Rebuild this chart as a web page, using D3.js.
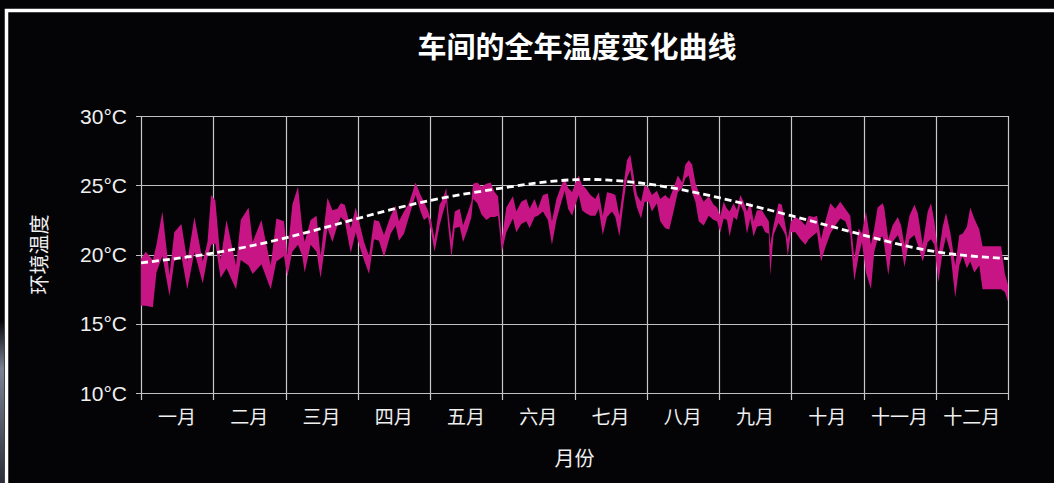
<!DOCTYPE html>
<html>
<head>
<meta charset="utf-8">
<script src="https://cdn.jsdelivr.net/npm/d3@7"></script>
<style>
  html, body { margin: 0; padding: 0; background: #040407; overflow: hidden; }
  svg { display: block; }
</style>
</head>
<body>
<div id="chart"></div>
<script>
// month labels (x axis)
var months = ["一月", "二月", "三月", "四月", "五月", "六月", "七月", "八月", "九月", "十月", "十一月", "十二月"];
// y axis ticks
var yTicks = [10, 15, 20, 25, 30];
// smooth trend, read at each month boundary (Jan 1 ... Dec 31)
var trendTemps = [19.4, 20.1, 21.2, 22.6, 23.9, 24.8, 25.4, 25.1, 24.1, 22.8, 21.4, 20.2, 19.7];

// daily band: day of year, upper and lower edge (°C)
var days = [0, 2, 5, 6.5, 9, 12, 14, 17, 19.5, 22.5, 26, 28, 29.5, 31.3, 33.5, 36, 40, 42, 45.3, 47, 50.7, 54.6, 57,
  60.2, 61.6, 63.7, 66.1, 67.9, 68.9, 71.4, 73.9, 75.6, 78.5, 80.6, 82.7, 84.1, 85.8, 88.3, 90.4, 91.8, 93.9, 96.0, 98.1, 100.2, 102.3, 105.1, 107.2, 108.6, 110.7, 112.8, 115.6, 117.7, 119.1,
  120.8, 122.2, 123.6, 125.7, 127.1, 128.5, 129.3, 130.7, 132.1, 134.2, 135.6, 137.7, 139.1, 139.8, 141.6, 143.3, 145.4, 147.2, 148.9, 150.3, 151.9, 153.8, 156.6, 158.0, 160.1, 162.2, 163.6, 165.7, 167.1, 169.2, 171.3, 173.0, 174.9, 177.0, 178.4, 179.8,
  181.5, 182.9, 184.3, 185.7, 187.1, 189.2, 191.3, 192.7, 194.4, 196.2, 198.3, 199.7, 201.4, 203.2, 204.6, 206.0, 207.4, 208.8, 210.5, 212.0, 213.7, 215.1, 217.2, 218.6, 220.7, 222.4, 224.2, 226.0, 227.8, 229.2, 230.6, 232.0, 233.4, 234.8, 236.9, 239.0, 241.1,
  242.5, 243.9, 245.3, 246.7, 247.8, 249.5, 250.9, 252.3, 253.7, 255.1, 256.5, 257.9, 259.3, 261.4, 262.8, 264.3, 264.9, 266.3, 268.4, 269.8, 271.3, 272.3, 273.6, 275.5, 277.6, 279.7, 281.1, 283.2, 284.6, 286.3, 288.1, 290.2, 292.3, 294.4, 296.5, 298.6, 300.3, 302.1, 303.5,
  305.2, 307.3, 308.7, 310.1, 312.2, 312.9, 314.6, 316.4, 318.6, 320.0, 321.4, 323.5, 325.6, 327.0, 329.1, 331.2, 332.6, 334.0, 335.7, 337.5, 338.9, 340.7, 342.8, 344.5, 345.9, 347.7, 349.1, 350.8, 352.9, 354.3, 362.1, 363.7, 365];
var highTemps = [19.7, 20.2, 19.6, 20.7, 23.1, 18.5, 21.6, 22.2, 19.5, 22.7, 19.5, 20.9, 24.3, 23.9, 19.6, 22.5, 19.2, 22.5, 23.4, 20.9, 22.5, 19.2, 22.6,
  22.4, 19.9, 23.6, 24.9, 21.9, 20.9, 22.5, 22.8, 19.9, 24.1, 23.2, 23.3, 23.7, 23.6, 21.9, 23.4, 22.4, 20.9, 19.9, 22.5, 22.4, 21.4, 22.8, 23.5, 22.4, 23.1, 23.7, 25.2, 24.3, 23.8,
  23.2, 22.4, 21.1, 23.6, 24.0, 24.8, 23.2, 21.1, 23.1, 23.3, 22.1, 23.1, 23.8, 25.1, 25.2, 24.9, 25.1, 25.2, 24.5, 24.2, 21.1, 23.4, 24.2, 23.1, 23.8, 24.0, 23.3, 24.0, 23.3, 24.3, 24.4, 22.4, 24.0, 25.0, 25.5, 24.8,
  24.5, 25.2, 25.7, 25.0, 24.8, 24.3, 24.0, 24.5, 22.8, 24.5, 24.4, 24.3, 22.8, 25.1, 26.8, 27.2, 25.7, 24.3, 23.8, 25.0, 24.8, 24.3, 24.6, 24.0, 24.3, 24.0, 24.8, 25.7, 25.2, 26.5, 26.8, 26.5, 25.2, 24.5, 23.8, 24.2, 23.6,
  23.4, 22.8, 23.8, 23.3, 23.1, 23.7, 23.2, 24.3, 23.8, 23.1, 23.8, 22.4, 23.2, 23.2, 22.8, 22.4, 20.7, 22.1, 23.7, 23.6, 22.1, 21.1, 22.4, 22.7, 22.5, 22.1, 22.8, 22.7, 22.8, 21.1, 22.4, 23.7, 23.3, 23.8, 23.3, 22.8, 19.7, 21.9, 21.5,
  23.1, 20.7, 21.9, 23.4, 23.7, 23.4, 21.1, 22.1, 22.7, 22.1, 20.7, 22.8, 23.6, 23.0, 20.7, 23.1, 23.7, 22.4, 19.9, 22.0, 23.0, 21.6, 19.2, 21.4, 21.5, 22.0, 23.4, 22.6, 21.8, 20.6, 20.6, 18.6, 17.8];
var lowTemps = [16.3, 16.3, 16.2, 18.7, 19.9, 17.0, 19.5, 19.9, 17.5, 20.2, 17.9, 19.8, 20.7, 20.8, 18.3, 19.0, 17.5, 19.6, 19.2, 18.6, 19.3, 17.5, 19.5,
  19.9, 18.4, 20.2, 20.7, 19.9, 18.7, 20.7, 20.2, 18.3, 21.9, 20.9, 22.1, 22.7, 22.4, 20.1, 21.6, 20.7, 19.6, 18.6, 21.1, 21.0, 19.8, 21.5, 22.1, 21.0, 21.5, 22.7, 24.3, 23.1, 22.5,
  22.7, 21.6, 20.2, 22.1, 23.0, 23.8, 22.1, 19.8, 21.9, 22.0, 20.9, 21.9, 22.7, 24.0, 23.7, 22.9, 22.5, 22.7, 22.7, 22.8, 20.2, 21.6, 22.6, 21.6, 22.2, 22.4, 21.9, 22.7, 22.8, 23.1, 22.5, 20.7, 22.5, 23.8, 24.6, 23.3,
  22.8, 23.6, 24.3, 23.2, 23.0, 22.8, 22.8, 23.3, 21.4, 22.7, 23.1, 22.7, 21.3, 23.8, 25.5, 26.1, 24.5, 23.4, 22.6, 23.8, 23.8, 23.1, 23.7, 22.4, 21.9, 21.8, 23.1, 24.5, 24.8, 25.5, 25.7, 24.5, 23.8, 22.4, 22.1, 22.8, 22.5,
  22.4, 21.6, 22.6, 22.5, 21.3, 22.7, 22.5, 23.6, 23.1, 21.5, 22.6, 21.3, 22.0, 22.1, 21.6, 21.5, 18.5, 21.4, 22.3, 21.9, 21.4, 19.9, 21.6, 21.6, 21.1, 20.7, 21.1, 21.4, 21.6, 19.5, 20.5, 21.5, 22.1, 22.6, 22.4, 21.4, 18.1, 19.9, 20.9,
  18.7, 17.5, 20.2, 21.1, 21.3, 20.7, 18.5, 20.9, 21.4, 20.7, 19.1, 21.1, 21.4, 20.7, 19.5, 20.9, 21.1, 20.7, 18.0, 20.2, 21.3, 20.2, 16.9, 19.2, 19.9, 19.0, 19.5, 18.7, 19.2, 17.5, 17.5, 17.3, 16.6];

var W = 1054, H = 483;
var margin = {top: 116, right: 46, bottom: 90, left: 141};
var width = W - margin.left - margin.right;
var height = H - margin.top - margin.bottom;

var svg = d3.select("#chart").append("svg")
  .attr("width", W)
  .attr("height", H);

// background + the white frame of the panel
svg.append("rect").attr("width", W).attr("height", H).attr("fill", "#040407");
var grad = svg.append("defs").append("linearGradient")
  .attr("id", "edge").attr("x1", 0).attr("y1", 0).attr("x2", 0).attr("y2", 1);
grad.append("stop").attr("offset", "0%").attr("stop-color", "#040407");
grad.append("stop").attr("offset", "30%").attr("stop-color", "#7a8294");
grad.append("stop").attr("offset", "100%").attr("stop-color", "#2a2e38");
svg.append("rect").attr("x", 0).attr("y", 320).attr("width", 4).attr("height", 163).attr("fill", "url(#edge)");
svg.append("path")
  .attr("d", "M6.5," + H + "V10.5H" + W)
  .attr("fill", "none")
  .attr("stroke", "#fff")
  .attr("stroke-width", 3.5);

var g = svg.append("g")
  .attr("transform", "translate(" + margin.left + "," + margin.top + ")");

var x = d3.scaleLinear().domain([0, 365]).range([0, width]);
var xMonth = d3.scaleBand().domain(months).range([0, width]).padding(0);
var y = d3.scaleLinear().domain([10, 30]).range([height, 0]);

// grid
var monthEdges = d3.range(months.length + 1);
g.append("g").attr("class", "grid")
  .selectAll("line.v")
  .data(monthEdges)
  .enter().append("line")
    .attr("x1", function(d) { return Math.round(d * xMonth.step()) + 0.5; })
    .attr("x2", function(d) { return Math.round(d * xMonth.step()) + 0.5; })
    .attr("y1", 0)
    .attr("y2", height + 7)
    .attr("stroke", "#c8c8c8")
    .attr("stroke-width", 1.2);

g.append("g").attr("class", "grid")
  .selectAll("line.h")
  .data(yTicks)
  .enter().append("line")
    .attr("x1", -5)
    .attr("x2", width)
    .attr("y1", function(d) { return Math.round(y(d)) + 0.5; })
    .attr("y2", function(d) { return Math.round(y(d)) + 0.5; })
    .attr("stroke", "#c0c0c0")
    .attr("stroke-width", 1.2);

// band
var band = days.map(function(d, i) { return {day: d, hi: highTemps[i], lo: lowTemps[i]}; });
var area = d3.area()
  .x(function(d) { return x(d.day); })
  .y0(function(d) { return y(d.lo); })
  .y1(function(d) { return y(d.hi); });

g.append("path")
  .datum(band)
  .attr("fill", "#c71585")
  .attr("d", area);

// trend line
var trendLine = d3.line()
  .curve(d3.curveNatural)
  .x(function(d, i) { return i * xMonth.step(); })
  .y(function(d) { return y(d); });

g.append("path")
  .datum(trendTemps)
  .attr("fill", "none")
  .attr("stroke", "#fff")
  .attr("stroke-width", 2.8)
  .attr("stroke-dasharray", "7,4")
  .attr("d", trendLine);

// y tick labels
g.selectAll(".ylab")
  .data(yTicks)
  .enter().append("text")
    .attr("class", "ylab")
    .attr("x", -14)
    .attr("y", function(d) { return y(d); })
    .attr("dy", "0.36em")
    .attr("text-anchor", "end")
    .attr("fill", "#f0f0f0")
    .style("font-family", "'Liberation Sans', Arial, sans-serif")
    .style("font-size", "21px")
    .text(function(d) { return d + "°C"; });

// month labels
g.selectAll(".xlab")
  .data(months)
  .enter().append("text")
    .attr("class", "xlab")
    .attr("x", function(d) { return xMonth(d) + xMonth.bandwidth() / 2; })
    .attr("y", height + 24)
    .attr("dy", "0.35em")
    .attr("text-anchor", "middle")
    .attr("fill", "#f0f0f0")
    .style("font-family", "'Noto Sans CJK SC', sans-serif")
    .style("font-size", "19px")
    .text(function(d) { return d; });

// axis titles
svg.append("text")
  .attr("transform", "translate(40," + (margin.top + height / 2) + ") rotate(-90)")
  .attr("text-anchor", "middle")
  .attr("dy", "0.35em")
  .attr("fill", "#f0f0f0")
  .style("font-family", "'Noto Sans CJK SC', sans-serif")
  .style("font-size", "20px")
  .text("环境温度");

svg.append("text")
  .attr("x", margin.left + width / 2)
  .attr("y", 459)
  .attr("dy", "0.35em")
  .attr("text-anchor", "middle")
  .attr("fill", "#f0f0f0")
  .style("font-family", "'Noto Sans CJK SC', sans-serif")
  .style("font-size", "20px")
  .text("月份");

// title
svg.append("text")
  .attr("x", 577)
  .attr("y", 48)
  .attr("dy", "0.35em")
  .attr("text-anchor", "middle")
  .attr("fill", "#ffffff")
  .style("font-family", "'Noto Sans CJK SC', sans-serif")
  .style("font-weight", "bold")
  .style("font-size", "29px")
  .text("车间的全年温度变化曲线");
</script>
</body>
</html>
